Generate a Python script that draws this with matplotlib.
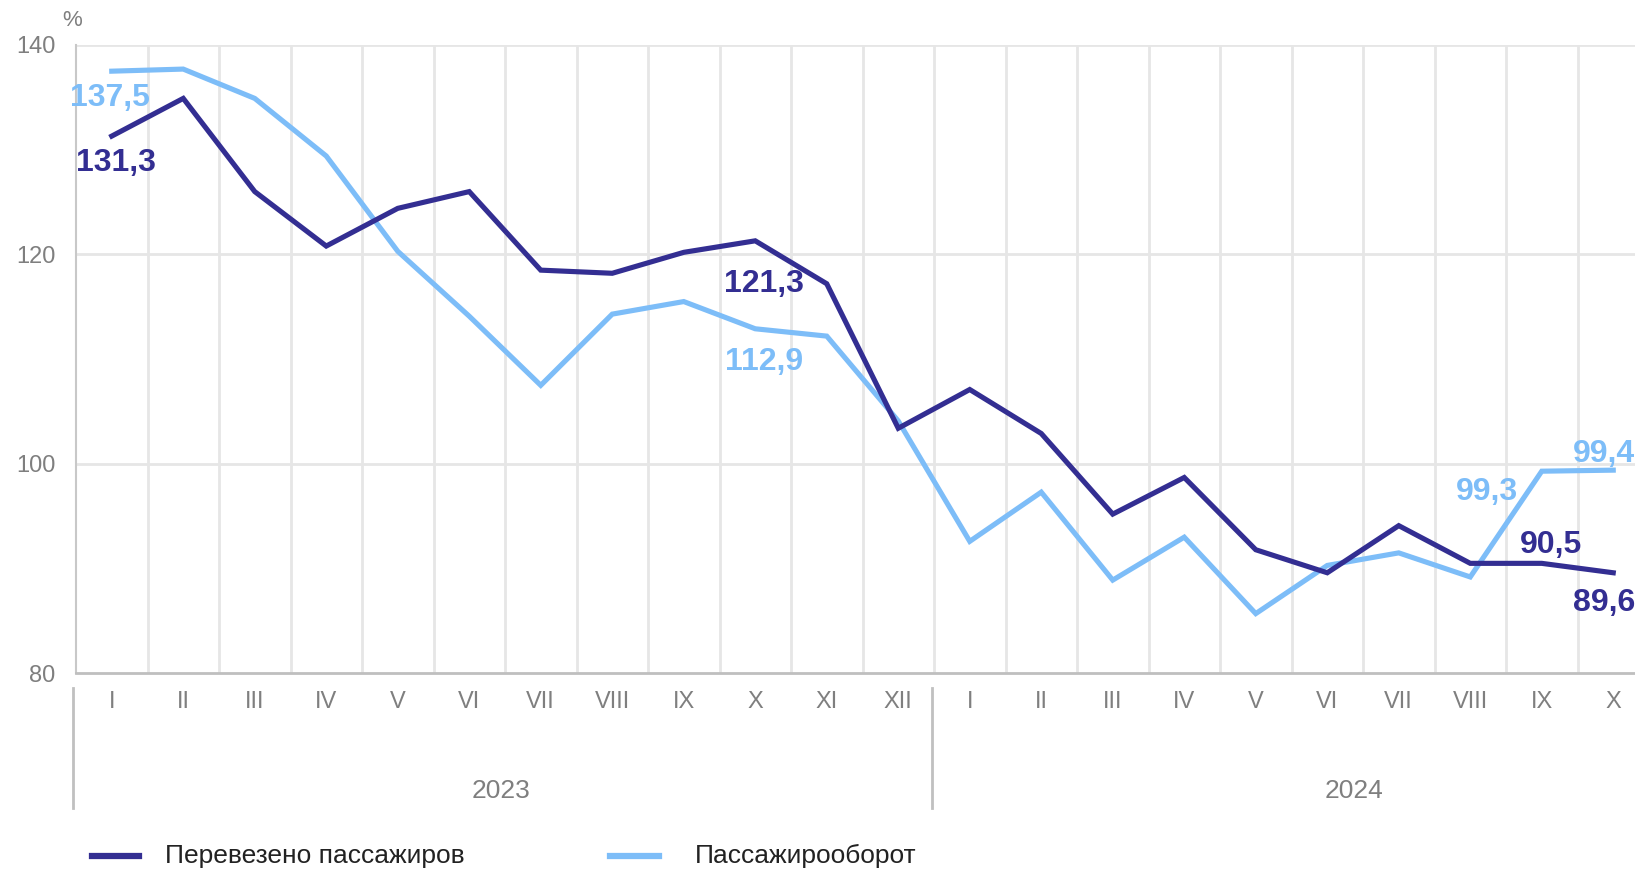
import matplotlib
matplotlib.use("Agg")
import matplotlib.pyplot as plt
from matplotlib.transforms import blended_transform_factory
from matplotlib.lines import Line2D

plt.rcParams['font.family'] = ['Liberation Sans', 'DejaVu Sans']

months = ["I", "II", "III", "IV", "V", "VI", "VII", "VIII", "IX", "X", "XI", "XII",
          "I", "II", "III", "IV", "V", "VI", "VII", "VIII", "IX", "X"]
years = ["2023", "2024"]
passengers = [131.3, 134.9, 126.0, 120.8, 124.4, 126.0, 118.5, 118.2, 120.2, 121.3, 117.2, 103.4,
              107.1, 102.9, 95.2, 98.7, 91.8, 89.6, 94.1, 90.5, 90.5, 89.6]
turnover = [137.5, 137.7, 134.9, 129.4, 120.3, 114.1, 107.5, 114.3, 115.5, 112.9, 112.2, 104.1,
            92.6, 97.3, 88.9, 93.0, 85.7, 90.3, 91.5, 89.2, 99.3, 99.4]
series_names = ["Перевезено пассажиров", "Пассажирооборот"]

DARK = "#332E92"
LIGHT = "#7DBDF8"
GRAY = "#7F7F7F"
GRID = "#E6E6E6"

W, H = 1635, 869
fig = plt.figure(figsize=(W / 100, H / 100), dpi=100)
left_px, right_px = 76, 76 + 22 * 71.5
top_px, bot_px = 45, 673.3
ax = fig.add_axes([left_px / W, (H - bot_px) / H, (right_px - left_px) / W, (bot_px - top_px) / H])

x = list(range(len(months)))
ax.set_xlim(-0.5, len(months) - 0.5)
ax.set_ylim(80, 140)

# grid
for v in [100, 120, 140]:
    ax.axhline(v, color=GRID, lw=2, zorder=0)
for b in range(1, len(months)):
    ax.axvline(b - 0.5, color=GRID, lw=2, zorder=0)

for s in ["top", "right"]:
    ax.spines[s].set_visible(False)
ax.spines["left"].set_color("#C8C8C8")
ax.spines["left"].set_linewidth(1.5)
ax.spines["bottom"].set_color("#BFBFBF")
ax.spines["bottom"].set_linewidth(2)

ax.set_yticks([80, 100, 120, 140])
ax.tick_params(axis="y", length=0, pad=15, labelsize=17, labelcolor=GRAY)
ax.set_xticks([])

ax.plot(x, passengers, color=DARK, lw=3.7, solid_joinstyle="miter", zorder=3)
ax.plot(x, turnover, color=LIGHT, lw=3.7, solid_joinstyle="miter", zorder=2)

# data labels
lab_style = dict(fontsize=23, fontweight="bold", ha="center", va="center",
                 textcoords="offset pixels", annotation_clip=False)
labels = [
    (0, turnover, LIGHT, -2, -27),
    (0, passengers, DARK, 4, -27),
    (9, passengers, DARK, 9, -43),
    (9, turnover, LIGHT, 9, -33),
    (20, turnover, LIGHT, -55, -21),
    (21, turnover, LIGHT, -9, 16),
    (20, passengers, DARK, 9, 18),
    (21, passengers, DARK, -9, -30),
]
for i, ser, col, dx, dy in labels:
    ax.annotate(f"{ser[i]:.1f}".replace(".", ","), (i, ser[i]), xytext=(dx, dy),
                color=col, **lab_style)

# category axis
tr = blended_transform_factory(ax.transData, ax.transAxes)
for i, m in enumerate(months):
    ax.text(i, -0.0457, m, transform=tr, ha="center", va="center", fontsize=17, color=GRAY)
ax.text(5.45, -0.187, years[0], transform=tr, ha="center", va="center", fontsize=19, color=GRAY)
ax.text(17.37, -0.187, years[1], transform=tr, ha="center", va="center", fontsize=19, color=GRAY)
for b in [-0.54, 11.47]:
    ax.add_line(Line2D([b, b], [-0.0234, -0.2145], transform=tr, color="#C0C0C0", lw=2,
                       clip_on=False))

fig.text(72 / W, 1 - 21 / H, "%", ha="center", va="center", fontsize=16, color=GRAY)

# legend
ly = 1 - 856 / H
fig.add_artist(Line2D([92 / W, 139 / W], [ly, ly], color=DARK, lw=4.5))
fig.text(165 / W, ly, series_names[0], ha="left", va="center", fontsize=19, color="#222222")
fig.add_artist(Line2D([610 / W, 659 / W], [ly, ly], color=LIGHT, lw=4.5))
fig.text(695 / W, ly, series_names[1], ha="left", va="center", fontsize=19, color="#222222")

fig.savefig("out.png", dpi=100)
